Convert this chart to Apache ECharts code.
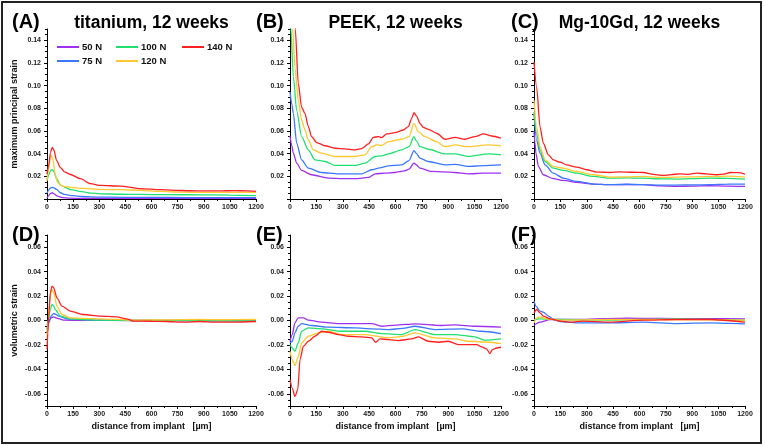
<!DOCTYPE html>
<html>
<head>
<meta charset="utf-8">
<script src="https://cdn.jsdelivr.net/npm/echarts@6/dist/echarts.min.js"></script>
<style>html,body{margin:0;padding:0;background:#fff;}#c{width:765px;height:446px;}</style>
</head>
<body>
<div id="c"></div>
<script>
// ---------- data ----------
const loadNames = ['50 N', '75 N', '100 N', '120 N', '140 N'];
const panelLabels = ['(A)', '(B)', '(C)', '(D)', '(E)', '(F)'];
const panelTitles = ['titanium, 12 weeks', 'PEEK, 12 weeks', 'Mg-10Gd, 12 weeks'];
const xLabelStep = 150;
const yTopTicks = [0, 0.02, 0.04, 0.06, 0.08, 0.10, 0.12, 0.14];
const yTopLabels = [0.02, 0.04, 0.06, 0.08, 0.10, 0.12, 0.14];
const yBotTicks = [-0.06, -0.04, -0.02, 0.00, 0.02, 0.04, 0.06];

// (A) titanium, maximum principal strain
const ti50 = [[0,0.001],[10,0.003],[20,0.005],[30,0.0055],[40,0.0045],[60,0.0025],[90,0.0012],[130,0.0007],[200,0.0005],[400,0.0005],[600,0.0005],[800,0.0005],[1000,0.0005],[1200,0.0005]];
const ti75 = [[0,0.005],[10,0.008],[20,0.0098],[30,0.0103],[40,0.0098],[55,0.0085],[77,0.0055],[100,0.004],[150,0.003],[200,0.0022],[300,0.0017],[450,0.0015],[600,0.0014],[800,0.0013],[1000,0.0013],[1200,0.0012]];
const ti100 = [[0,0.017],[10,0.021],[20,0.025],[30,0.026],[40,0.024],[55,0.018],[77,0.0123],[100,0.0105],[134,0.0083],[200,0.0065],[250,0.0052],[307,0.0046],[420,0.0042],[537,0.004],[700,0.0038],[883,0.0037],[1050,0.0035],[1200,0.003]];
const ti120 = [[0,0.016],[10,0.027],[20,0.037],[25,0.0385],[35,0.034],[48,0.021],[60,0.015],[77,0.0123],[100,0.011],[134,0.0102],[200,0.0093],[307,0.0085],[420,0.0082],[537,0.0077],[650,0.0068],[768,0.006],[900,0.0058],[1050,0.0058],[1200,0.0058]];
const ti140 = [[0,0.022],[10,0.03],[20,0.041],[30,0.0456],[40,0.043],[55,0.034],[77,0.0277],[100,0.024],[134,0.0216],[192,0.0179],[250,0.0135],[307,0.012],[422,0.0114],[537,0.0092],[653,0.0083],[768,0.0075],[883,0.0071],[1000,0.0072],[1075,0.0074],[1150,0.0072],[1200,0.0068]];

// (B) PEEK, maximum principal strain
const peek50 = [[0,0.0556],[10,0.047],[19,0.0404],[38,0.0316],[66,0.0252],[123,0.0214],[218,0.0184],[300,0.018],[370,0.0179],[446,0.019],[484,0.0222],[540,0.0228],[597,0.0234],[650,0.0248],[677,0.0263],[705,0.0316],[720,0.03],[739,0.0272],[806,0.0243],[870,0.024],[938,0.0234],[1014,0.0222],[1100,0.0228],[1200,0.0228]];
const peek75 = [[0,0.0945],[10,0.084],[19,0.0755],[38,0.0492],[66,0.0345],[104,0.0272],[180,0.0234],[275,0.0222],[408,0.0222],[465,0.0258],[510,0.0275],[560,0.0293],[635,0.0301],[677,0.0339],[705,0.0427],[720,0.04],[739,0.036],[787,0.0331],[882,0.0301],[940,0.0305],[1014,0.0287],[1100,0.0295],[1200,0.0301]];
const peek100 = [[0,0.17],[5,0.15],[19,0.108],[38,0.078],[66,0.055],[104,0.0433],[142,0.0345],[199,0.0331],[256,0.0296],[370,0.0296],[427,0.0316],[484,0.0375],[520,0.038],[560,0.0398],[635,0.0433],[677,0.0462],[705,0.055],[720,0.051],[739,0.0462],[787,0.0439],[882,0.0398],[938,0.0398],[1014,0.0375],[1128,0.0398],[1200,0.0389]];
const peek120 = [[0,0.22],[15,0.15],[28,0.116],[47,0.087],[66,0.0697],[85,0.0609],[104,0.0521],[133,0.0433],[180,0.0404],[256,0.0375],[370,0.0375],[427,0.0389],[465,0.0462],[493,0.0477],[521,0.0474],[560,0.0506],[635,0.0527],[677,0.055],[705,0.0667],[730,0.0594],[768,0.055],[834,0.0506],[882,0.0462],[938,0.0477],[1014,0.0462],[1128,0.0477],[1200,0.0468]];
const peek140 = [[0,0.3],[15,0.22],[30,0.15],[47,0.102],[66,0.081],[85,0.0755],[104,0.064],[123,0.055],[152,0.0498],[199,0.047],[256,0.0448],[313,0.0442],[370,0.0433],[408,0.0445],[446,0.0486],[474,0.0544],[503,0.055],[521,0.0541],[550,0.0574],[597,0.0585],[645,0.0609],[673,0.0638],[692,0.0711],[705,0.0761],[720,0.0732],[739,0.0667],[758,0.0632],[787,0.0615],[834,0.058],[882,0.0527],[938,0.0544],[995,0.0527],[1052,0.055],[1100,0.0574],[1147,0.0556],[1200,0.0536]];

// (C) Mg-10Gd, maximum principal strain
const mg50 = [[0,0.06],[5,0.05],[11,0.0404],[25,0.0287],[53,0.0214],[110,0.0179],[167,0.0164],[243,0.0146],[337,0.0132],[432,0.0126],[530,0.0128],[622,0.0126],[720,0.0115],[811,0.0111],[900,0.0114],[1001,0.0117],[1100,0.0113],[1200,0.0111]];
const mg75 = [[0,0.075],[15,0.052],[34,0.0404],[63,0.0301],[110,0.0228],[167,0.0184],[243,0.0155],[337,0.0132],[432,0.0126],[530,0.013],[622,0.0126],[720,0.0122],[811,0.0123],[900,0.0125],[1001,0.0126],[1100,0.0131],[1200,0.0132]];
const mg100 = [[0,0.077],[15,0.058],[34,0.0433],[63,0.0331],[110,0.0272],[167,0.0252],[243,0.0228],[337,0.0199],[432,0.0184],[530,0.0186],[622,0.0184],[720,0.0178],[811,0.0176],[900,0.018],[1001,0.0184],[1100,0.0182],[1200,0.0176]];
const mg120 = [[0,0.087],[15,0.0638],[34,0.0462],[63,0.0345],[110,0.0287],[167,0.0272],[243,0.0243],[337,0.0214],[432,0.0193],[530,0.0196],[622,0.0199],[720,0.019],[811,0.0193],[900,0.0196],[1001,0.0199],[1100,0.0202],[1200,0.0193]];
const mg140 = [[0,0.121],[15,0.099],[34,0.0638],[53,0.0492],[82,0.0389],[110,0.0345],[148,0.0325],[186,0.0301],[243,0.0281],[300,0.0258],[356,0.0237],[400,0.0236],[432,0.0234],[489,0.024],[560,0.0236],[622,0.0234],[690,0.0215],[736,0.0208],[780,0.0215],[830,0.0222],[880,0.0218],[925,0.0228],[980,0.0222],[1039,0.0214],[1080,0.022],[1115,0.0234],[1160,0.0232],[1200,0.022]];

// (D) titanium, volumetric strain
const tiV50 = [[0,-0.004],[10,-0.001],[23,0.0022],[38,0.003],[60,0.0018],[95,0.0003],[200,0.0001],[500,0],[800,0],[1200,0]];
const tiV75 = [[0,-0.007],[10,-0.002],[23,0.0036],[38,0.0058],[50,0.005],[67,0.0036],[114,0.0014],[200,0.0007],[305,0.0003],[600,0],[900,-0.0002],[1200,-0.0003]];
const tiV100 = [[0,-0.01],[8,0.0],[19,0.009],[29,0.0132],[38,0.012],[48,0.009],[76,0.0036],[133,0.0014],[200,0.0008],[305,0.0003],[500,0],[686,0],[900,0.0001],[1200,-0.0003]];
const tiV120 = [[0,-0.015],[8,0.002],[15,0.0145],[23,0.024],[30,0.025],[38,0.0227],[57,0.0118],[86,0.0049],[133,0.0022],[200,0.0017],[305,0.0014],[400,0.0009],[495,0.0003],[700,0.0005],[876,0.0008],[1000,0.0006],[1200,0.0008]];
const tiV140 = [[0,-0.0238],[5,-0.01],[10,0.0036],[19,0.0227],[29,0.0282],[38,0.0268],[57,0.0186],[86,0.0118],[133,0.0077],[210,0.0049],[305,0.0036],[400,0.003],[457,0.0014],[495,-0.0005],[600,-0.0006],[686,-0.0008],[781,-0.0014],[876,-0.0008],[971,-0.0014],[1067,-0.0014],[1200,-0.0008]];

// (E) PEEK, volumetric strain
const peekV50 = [[0,-0.017],[13,-0.0115],[28,-0.0019],[47,0.0022],[76,0.0022],[104,0.0003],[180,-0.0014],[275,-0.0025],[465,-0.0025],[521,-0.0047],[600,-0.0038],[711,-0.0027],[863,-0.0041],[938,-0.0036],[1052,-0.0047],[1200,-0.0055]];
const peekV75 = [[0,-0.0184],[13,-0.017],[28,-0.0101],[47,-0.0047],[66,-0.0025],[123,-0.0041],[218,-0.0055],[370,-0.006],[465,-0.0068],[560,-0.0074],[640,-0.0065],[711,-0.0047],[825,-0.0074],[976,-0.0068],[1090,-0.0088],[1200,-0.0107]];
const peekV100 = [[0,-0.0197],[13,-0.0225],[28,-0.0252],[47,-0.0184],[66,-0.0088],[104,-0.006],[180,-0.0068],[294,-0.0088],[427,-0.0088],[521,-0.0107],[635,-0.0115],[711,-0.0074],[825,-0.0115],[938,-0.0115],[1052,-0.0134],[1109,-0.0162],[1200,-0.0151]];
const peekV120 = [[0,-0.0252],[13,-0.0321],[28,-0.037],[47,-0.0293],[66,-0.0184],[104,-0.0129],[161,-0.0101],[218,-0.0088],[294,-0.0115],[427,-0.0115],[560,-0.0142],[640,-0.013],[711,-0.0101],[825,-0.0142],[938,-0.0151],[1014,-0.017],[1128,-0.0178],[1200,-0.0189]];
const peekV140 = [[0,-0.0485],[13,-0.0553],[28,-0.0622],[44,-0.0567],[57,-0.0321],[76,-0.0211],[104,-0.017],[142,-0.0129],[180,-0.0088],[218,-0.0096],[275,-0.0115],[332,-0.0129],[408,-0.0134],[465,-0.0142],[487,-0.0178],[512,-0.0151],[560,-0.0156],[616,-0.0164],[692,-0.0151],[730,-0.0134],[787,-0.017],[844,-0.0178],[900,-0.017],[957,-0.0197],[1014,-0.0197],[1062,-0.0197],[1090,-0.0216],[1118,-0.0233],[1137,-0.0271],[1151,-0.0238],[1175,-0.0225],[1200,-0.0219]];

// (F) Mg-10Gd, volumetric strain
const mgV50 = [[0,-0.0041],[34,-0.0014],[91,0.0008],[243,0.0008],[400,0.0015],[527,0.0019],[650,0.0017],[811,0.0016],[1000,0.0015],[1200,0.0014]];
const mgV75 = [[0,0.0159],[11,0.0118],[34,0.0077],[53,0.0068],[82,0.0036],[110,0.0008],[148,-0.0008],[243,-0.0019],[432,-0.0019],[622,-0.0014],[811,-0.0025],[1001,-0.0019],[1200,-0.0027]];
const mgV100 = [[0,0.0008],[34,0.0014],[148,0.0008],[432,0.0003],[650,0.001],[811,0.0014],[1000,0.001],[1200,0.0003]];
const mgV120 = [[0,-0.0019],[15,0.0022],[34,0.003],[72,0.0014],[148,0.0003],[432,0.0008],[811,0.0008],[1200,0.0003]];
const mgV140 = [[0,0.0063],[15,0.009],[34,0.0063],[53,0.0036],[91,0.0014],[148,-0.0005],[205,-0.0014],[281,-0.0005],[432,-0.0014],[622,0.0003],[811,0.0008],[1001,0.0008],[1200,-0.0014]];

const panelData = [
  [ti50, ti75, ti100, ti120, ti140],
  [peek50, peek75, peek100, peek120, peek140],
  [mg50, mg75, mg100, mg120, mg140],
  [tiV50, tiV75, tiV100, tiV120, tiV140],
  [peekV50, peekV75, peekV100, peekV120, peekV140],
  [mgV50, mgV75, mgV100, mgV120, mgV140]
];

// ---------- styling / layout ----------
const FONT = '"Liberation Sans", Arial, Helvetica, sans-serif';
const colors = ['#a030f0', '#3a78ff', '#20e070', '#ffc830', '#ff2020'];
const gridPos = [
  {left: 47, top: 29, width: 209, height: 170},
  {left: 290, top: 29, width: 211, height: 170},
  {left: 534, top: 29, width: 211, height: 170},
  {left: 47, top: 235, width: 209, height: 171},
  {left: 290, top: 235, width: 211, height: 171},
  {left: 534, top: 235, width: 211, height: 171}
];
const labelPos = [[12, 12], [256, 12], [511, 12], [12, 225], [256, 225], [511, 225]];

const chart = echarts.init(document.getElementById('c'), null, {renderer: 'canvas'});

const grid = gridPos.map(g => Object.assign({containLabel: false}, g));
const xAxis = [], yAxis = [], series = [];
const tickLabelStyle = {fontSize: 7, fontWeight: 'bold', color: '#222', fontFamily: FONT};
const nameStyle = {fontSize: 9, fontWeight: 'bold', color: '#111', fontFamily: FONT};

for (let i = 0; i < 6; i++) {
  const top = i < 3;
  xAxis.push({
    type: 'value', gridIndex: i, min: 0, max: 1200, interval: xLabelStep,
    axisLine: {onZero: false, lineStyle: {color: '#000', width: 1}},
    axisTick: {length: 3, lineStyle: {color: '#000'}},
    minorTick: {show: true, splitNumber: 2, length: 2, lineStyle: {color: '#000'}},
    axisLabel: Object.assign({margin: 5, formatter: v => String(Math.round(v))}, tickLabelStyle),
    splitLine: {show: false}, minorSplitLine: {show: false},
    name: top ? '' : 'distance from implant   [µm]',
    nameLocation: 'middle', nameGap: 16, nameTextStyle: nameStyle
  });
}
for (let i = 0; i < 6; i++) {
  const top = i < 3;
  const mn = top ? 0 : -0.07, mx = top ? 0.15 : 0.07;
  yAxis.push({
    type: 'value', gridIndex: i, min: mn, max: mx, position: 'left',
    axisLine: {show: true, onZero: false, lineStyle: {color: '#000', width: 1}},
    axisTick: {show: true, length: 3, customValues: top ? yTopTicks : yBotTicks, lineStyle: {color: '#000'}},
    axisLabel: Object.assign({margin: 6, customValues: top ? yTopLabels : yBotTicks,
      formatter: v => Number(v).toFixed(2)}, tickLabelStyle),
    splitLine: {show: false},
    name: i === 0 ? 'maximum principal strain' : (i === 3 ? 'volumetric strain' : ''),
    nameLocation: 'middle', nameGap: 28, nameTextStyle: nameStyle
  });
}
// minor tick overlay axes
for (let i = 0; i < 6; i++) {
  const top = i < 3;
  yAxis.push({
    type: 'value', gridIndex: i, min: top ? 0 : -0.07, max: top ? 0.15 : 0.07, interval: 0.005,
    position: 'left', offset: 0,
    axisLine: {show: false}, axisLabel: {show: false}, splitLine: {show: false},
    axisTick: {show: true, length: 2, lineStyle: {color: '#000'}}
  });
}
for (let p = 0; p < 6; p++) {
  for (let s = 0; s < 5; s++) {
    series.push({
      type: 'line', name: loadNames[s], xAxisIndex: p, yAxisIndex: p,
      data: panelData[p][s], showSymbol: false, symbol: 'none',
      smooth: 0.25, smoothMonotone: 'x', clip: true, silent: true,
      color: colors[s], lineStyle: {color: colors[s], width: 1.3}
    });
  }
}

const title = [];
panelLabels.forEach((t, i) => {
  title.push({text: t, left: labelPos[i][0], top: labelPos[i][1], padding: 0,
    textStyle: {fontSize: 20, fontWeight: 'bold', color: '#000', fontFamily: FONT}});
});
panelTitles.forEach((t, i) => {
  const g = gridPos[i];
  title.push({text: t, left: g.left + g.width / 2, top: 14, padding: 0, textAlign: 'center',
    textStyle: {fontSize: 17.5, fontWeight: 'bold', color: '#000', fontFamily: FONT}});
});

const legendPos = [[57, 42], [57, 56], [116, 42], [116, 56], [182, 42]];
const legend = loadNames.map((n, i) => ({
  data: [n], left: legendPos[i][0], top: legendPos[i][1], padding: 0,
  icon: 'rect', itemWidth: 22, itemHeight: 2, selectedMode: false,
  textStyle: {fontSize: 9.5, fontWeight: 'bold', color: '#111', fontFamily: FONT, padding: [0, 0, 0, -2]}
}));

chart.setOption({
  animation: false,
  backgroundColor: '#fff',
  title, legend, grid, xAxis, yAxis, series,
  graphic: [{type: 'rect', shape: {x: 2, y: 2, width: 759, height: 441},
    style: {fill: 'none', stroke: '#222', lineWidth: 2}, silent: true}]
});
</script>
</body>
</html>
